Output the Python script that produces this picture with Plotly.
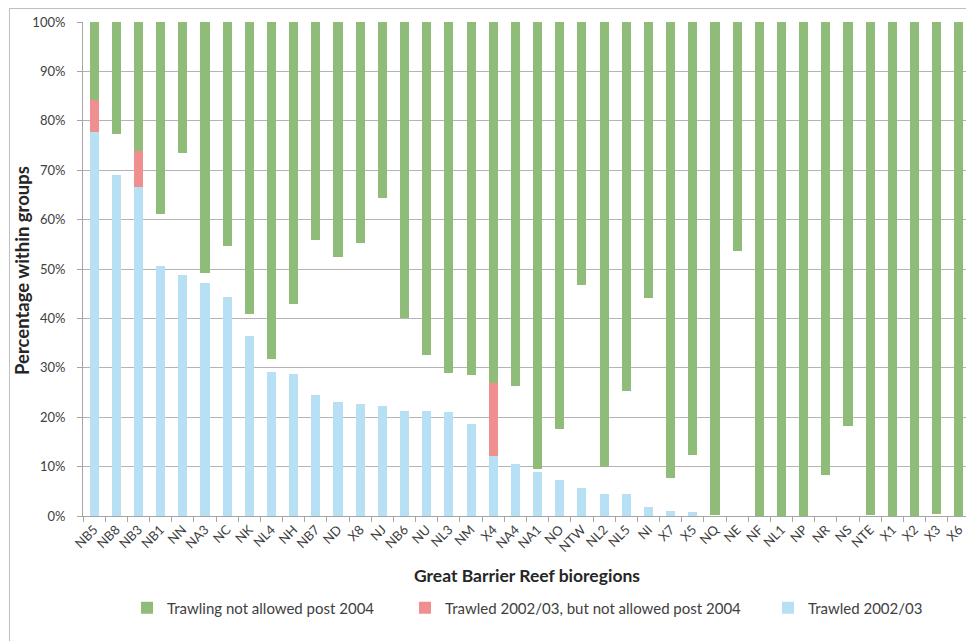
import plotly.graph_objects as go

# ---- data (percent within groups) ----
regions = ["NB5", "NB8", "NB3", "NB1", "NN", "NA3", "NC", "NK", "NL4", "NH",
           "NB7", "ND", "X8", "NJ", "NB6", "NU", "NL3", "NM", "X4", "NA4",
           "NA1", "NO", "NTW", "NL2", "NL5", "NI", "X7", "X5", "NQ", "NE",
           "NF", "NL1", "NP", "NR", "NS", "NTE", "X1", "X2", "X3", "X6"]

trawled_0203 = [77.7, 69.1, 66.5, 50.6, 48.8, 47.1, 44.4, 36.4, 29.2, 28.7,
                24.5, 23.0, 22.6, 22.2, 21.3, 21.2, 21.0, 18.7, 12.1, 10.6,
                9.0, 7.3, 5.6, 4.5, 4.4, 1.8, 1.0, 0.75, 0.0, 0.0,
                0.0, 0.0, 0.0, 0.0, 0.0, 0.0, 0.0, 0.0, 0.0, 0.0]

trawled_closed = [6.6, 0.0, 7.4, 0.0, 0.0, 0.0, 0.0, 0.0, 0.0, 0.0,
                  0.0, 0.0, 0.0, 0.0, 0.0, 0.0, 0.0, 0.0, 14.9, 0.0,
                  0.0, 0.0, 0.0, 0.0, 0.0, 0.0, 0.0, 0.0, 0.0, 0.0,
                  0.0, 0.0, 0.0, 0.0, 0.0, 0.0, 0.0, 0.0, 0.0, 0.0]

not_allowed = [15.7, 22.7, 26.1, 38.8, 26.5, 50.8, 45.4, 59.2, 68.3, 57.1,
               44.2, 47.6, 44.7, 35.6, 59.9, 67.4, 71.1, 71.5, 73.0, 73.7,
               90.5, 82.4, 53.2, 90.0, 74.7, 55.9, 92.3, 87.7, 99.8, 46.3,
               100.0, 100.0, 100.0, 91.6, 81.8, 99.8, 100.0, 100.0, 99.6, 100.0]

y_tick_values = list(range(0, 101, 10))
y_tick_labels = [f"{v}%" for v in y_tick_values]

legend_labels = ["Trawling not allowed post 2004",
                 "Trawled 2002/03, but not allowed post 2004",
                 "Trawled 2002/03"]

# remaining (untrawled but still open) part, drawn without fill
remaining = [max(0.0, 100 - a - b - c) for a, b, c in zip(trawled_0203, trawled_closed, not_allowed)]

GREEN = "#8FBC78"
RED = "#EF8F8F"
BLUE = "#B8E0F4"
FONT = "Lato"
TXT = "#404040"

# the page body has an 8px margin; work in page pixels and convert
OFF = 8
W, H = 974 - OFF, 641 - OFF
PX0, PX1 = 83, 970   # plot area, page pixels
PY0, PY1 = 22, 516

def px(x):
    return (x - PX0) / (PX1 - PX0)

def py(y):
    return (PY1 - y) / (PY1 - PY0)

fig = go.Figure()
fig.add_trace(go.Bar(x=regions, y=trawled_0203, name=legend_labels[2],
                     marker=dict(color=BLUE, line=dict(width=0)), legend="legend3"))
fig.add_trace(go.Bar(x=regions, y=trawled_closed, name=legend_labels[1],
                     marker=dict(color=RED, line=dict(width=0)), legend="legend2"))
fig.add_trace(go.Bar(x=regions, y=remaining, name="open",
                     marker=dict(color="rgba(0,0,0,0)", line=dict(width=0)),
                     showlegend=False, hoverinfo="skip"))
fig.add_trace(go.Bar(x=regions, y=not_allowed, name=legend_labels[0],
                     marker=dict(color=GREEN, line=dict(width=0)), legend="legend"))

leg_common = dict(orientation="h", yanchor="middle", xanchor="left",
                  font=dict(family=FONT, size=15, color=TXT),
                  bgcolor="rgba(0,0,0,0)", itemwidth=30)

fig.update_layout(
    width=W, height=H,
    barmode="stack",
    bargap=0.59,
    plot_bgcolor="white",
    paper_bgcolor="white",
    margin=dict(l=PX0 - OFF, r=W - (PX1 - OFF), t=PY0 - OFF, b=H - (PY1 - OFF), autoexpand=False),
    font=dict(family=FONT, color=TXT),
    legend=dict(x=px(127), y=py(608), **leg_common),
    legend2=dict(x=px(405), y=py(608), **leg_common),
    legend3=dict(x=px(768), y=py(608), **leg_common),
    xaxis=dict(
        type="category",
        tickangle=-45,
        tickfont=dict(family=FONT, size=13, color=TXT),
        showline=True, linecolor="#A6A6A6", linewidth=1,
        ticks="outside", ticklen=5, tickcolor="#A6A6A6",
        tickson="boundaries",
        showgrid=False,
        range=[-0.5, len(regions) - 0.5],
    ),
    yaxis=dict(
        range=[0, 100],
        tickvals=y_tick_values,
        ticktext=y_tick_labels,
        tickfont=dict(family=FONT, size=13, color=TXT),
        showline=True, linecolor="#A6A6A6", linewidth=1,
        ticks="outside", ticklen=5, tickcolor="#A6A6A6",
        ticklabelstandoff=9,
        showgrid=True, gridcolor="#B3B3B3", gridwidth=1,
        zeroline=False,
    ),
    annotations=[
        dict(text="<b>Great Barrier Reef bioregions</b>", xref="paper", yref="paper",
             x=px(527), y=py(575), xanchor="center", yanchor="middle", showarrow=False,
             font=dict(family=FONT, size=17.5, color="#262626")),
        dict(text="<b>Percentage within groups</b>", xref="paper", yref="paper",
             x=px(22), y=py(271), xanchor="center", yanchor="middle", showarrow=False,
             textangle=-90, font=dict(family=FONT, size=18.5, color="#262626")),
    ],
    shapes=[
        dict(type="rect", xref="paper", yref="paper",
             x0=px(9.5), x1=px(1000), y0=py(700), y1=py(8.5),
             line=dict(color="#BFBFBF", width=1), fillcolor="rgba(0,0,0,0)", layer="below"),
    ],
)

fig.write_html("out.html")
